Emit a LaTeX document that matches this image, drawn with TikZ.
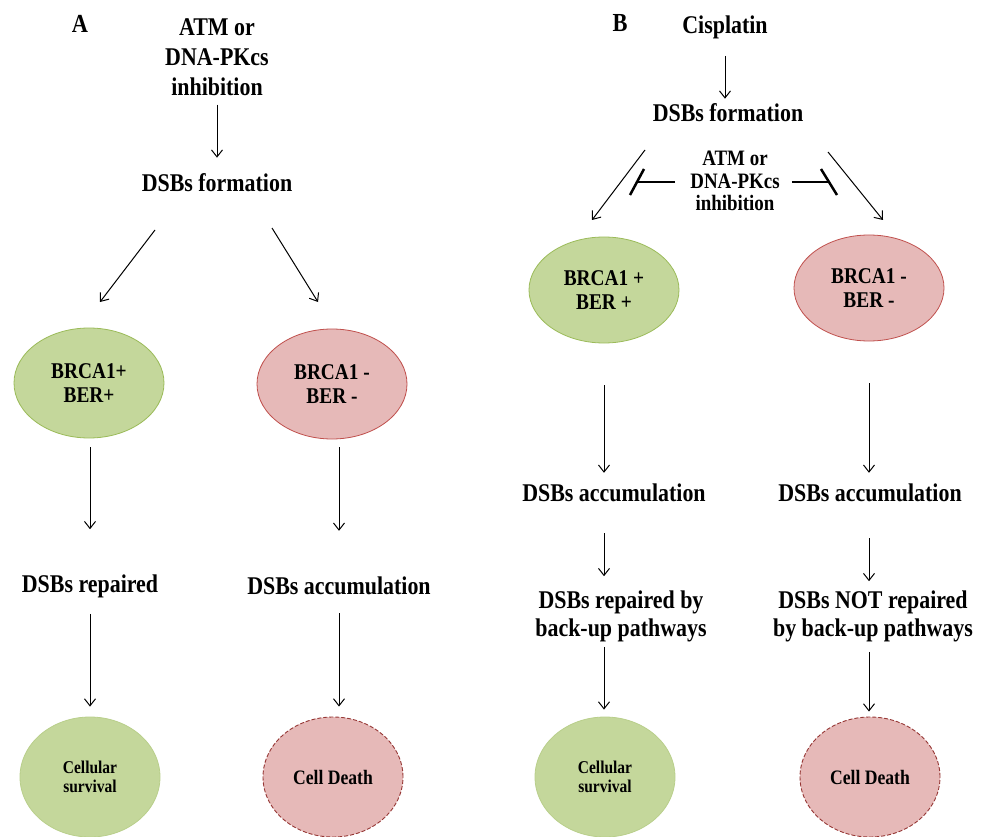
\documentclass[tikz,border=0pt]{standalone}
\usepackage{fontspec}
\setmainfont{Liberation Serif}[FakeStretch=0.86]
\usetikzlibrary{arrows.meta,shapes.geometric,calc}
\definecolor{gfill}{RGB}{196,215,155}
\definecolor{gline}{RGB}{155,187,89}
\definecolor{rfill}{RGB}{230,185,184}
\definecolor{rline}{RGB}{192,80,77}
\definecolor{rdash}{RGB}{150,55,53}
\tikzset{
  txt/.style={inner sep=0pt, align=center, font=\bfseries\fontsize{25.5}{30}\selectfont},
  inhtxt/.style={inner sep=0pt, align=center, font=\bfseries\fontsize{22}{22.5}\selectfont},
  lbl/.style={inner sep=0pt, font=\bfseries\fontsize{26}{28}\selectfont},
  gell/.style={ellipse, draw=gline, line width=0.8pt, fill=gfill, minimum width=150pt, minimum height=110pt, inner sep=0pt, align=center, font=\bfseries\fontsize{22.5}{24}\selectfont},
  rell/.style={ellipse, draw=rline, line width=0.8pt, fill=rfill, minimum width=150pt, minimum height=110pt, inner sep=0pt, align=center, font=\bfseries\fontsize{22.5}{24}\selectfont},
  gend/.style={ellipse, draw=gline!70, line width=0.8pt, fill=gfill, minimum width=140pt, minimum height=120pt, inner sep=0pt, align=center, font=\bfseries\fontsize{18}{19}\selectfont},
  rend/.style={ellipse, draw=rdash, dashed, dash pattern=on 4pt off 2pt, line width=0.9pt, fill=rfill, minimum width=140pt, minimum height=120pt, inner sep=0pt, align=center, font=\bfseries\fontsize{20.5}{21}\selectfont},
  arr/.style={line width=1pt, -{Straight Barb[length=7pt,width=11pt]}},
  inh/.style={line width=2.5pt},
}
\begin{document}
\begin{tikzpicture}[x=1pt,y=-1pt]
\useasboundingbox[fill=white] (0,0) rectangle (983,837);
% ---------------- Panel A ----------------
\node[lbl] (labA) at (80,24) {A};
\node[txt] (atmA) at (217,57) {ATM or\\DNA-PKcs\\inhibition};
\node[txt] (fA) at (217,183) {DSBs formation};
\node[gell] (gA) at (89,383) {BRCA1+\\BER+};
\node[rell] (rA) at (332,384) {BRCA1 -\\BER -};
\node[txt] (repA) at (90,586) {DSBs repaired};
\node[txt] (accA) at (339,586) {DSBs accumulation};
\node[gend] (survA) at (90,777) {Cellular\\survival};
\node[rend] (deathA) at (333,777) {Cell Death};
\coordinate (fAl) at (155,230);
\coordinate (fAr) at (272,228);
\coordinate (gAt) at (100,302);
\coordinate (rAt) at (318,302);
\draw[arr, shorten <=9pt, shorten >=16pt] (atmA.south) -- (fA.north);
\draw[arr] (fAl) -- (gAt);
\draw[arr] (fAr) -- (rAt);
\draw[arr, shorten <=9pt, shorten >=45pt] (gA.south -| repA.north) -- (repA.north);
\draw[arr, shorten <=16pt, shorten >=10pt] (repA.south) -- (survA.north -| repA.south);
\draw[arr, shorten <=8pt, shorten >=46pt] (rA.south -| accA.north) -- (accA.north);
\draw[arr, shorten <=18pt, shorten >=10pt] (accA.south) -- (deathA.north -| accA.south);
% ---------------- Panel B ----------------
\node[lbl] (labB) at (620,23) {B};
\node[txt] (cis) at (725,27) {Cisplatin};
\node[txt] (fB) at (728,113) {DSBs formation};
\node[inhtxt] (inhB) at (735,181) {ATM or\\DNA-PKcs\\inhibition};
\node[gell, minimum height=106pt] (gB) at (604,290) {BRCA1 +\\BER +};
\node[rell, minimum height=106pt] (rB) at (869,288) {BRCA1 -\\BER -};
\node[txt] (accB1) at (614,493) {DSBs accumulation};
\node[txt] (accB2) at (870,493) {DSBs accumulation};
\node[txt, font=\bfseries\fontsize{25.5}{28}\selectfont] (repB) at (621,616) {DSBs repaired by\\back-up pathways};
\node[txt, font=\bfseries\fontsize{25.5}{28}\selectfont] (notB) at (873,616) {DSBs NOT repaired\\by back-up pathways};
\node[gend] (survB) at (605,777) {Cellular\\survival};
\node[rend] (deathB) at (870,777) {Cell Death};
\coordinate (fBl) at (645,150);
\coordinate (fBr) at (828,152);
\coordinate (gBt) at (592,220);
\coordinate (rBt) at (883,220);
\coordinate (barL) at (637,182);
\coordinate (barR) at (829,182);
\draw[arr, shorten <=17pt, shorten >=5pt] (cis.south) -- (cis.south |- fB.north);
\draw[arr] (fBl) -- (gBt);
\draw[arr] (fBr) -- (rBt);
\draw[inh, shorten <=15pt] (inhB.west |- barL) -- (barL);
\draw[inh] ($(barL)+(7,-13)$) -- ($(barL)+(-7,13)$);
\draw[inh, shorten <=12pt] (inhB.east |- barR) -- (barR);
\draw[inh] ($(barR)+(-8,-13)$) -- ($(barR)+(8,13)$);
\draw[arr, shorten <=42pt, shorten >=11pt] (gB.south) -- (gB.south |- accB1.north);
\draw[arr, shorten <=31pt, shorten >=14pt] (gB.south |- accB1.south) -- (gB.south |- repB.north);
\draw[arr, shorten <=5pt, shorten >=7pt] (gB.south |- repB.south) -- (gB.south |- survB.north);
\draw[arr, shorten <=42pt, shorten >=11pt] (rB.south) -- (rB.south |- accB2.north);
\draw[arr, shorten <=36pt, shorten >=9pt] (rB.south |- accB2.south) -- (rB.south |- notB.north);
\draw[arr, shorten <=10pt, shorten >=5pt] (rB.south |- notB.south) -- (rB.south |- deathB.north);
\end{tikzpicture}
\end{document}
